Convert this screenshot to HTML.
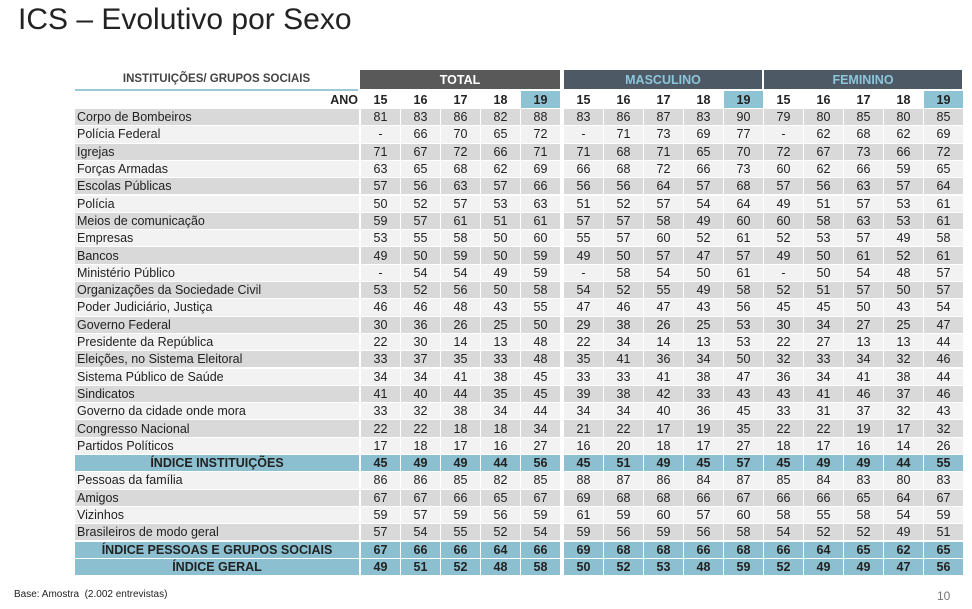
<!DOCTYPE html>
<html><head><meta charset="utf-8">
<style>
body{margin:0;width:972px;height:609px;background:#fff;position:relative;overflow:hidden;font-family:"Liberation Sans",sans-serif;}
.a{position:absolute;box-sizing:border-box;}
.c{display:flex;align-items:center;justify-content:center;font-size:12.5px;color:#222;}
.l{display:flex;align-items:center;font-size:12.5px;color:#222;padding-left:2px;white-space:nowrap;}
</style></head><body>
<div class="a" style="left:18px;top:3px;font-size:30px;color:#222;">ICS – Evolutivo por Sexo</div>
<div class="a" style="left:75px;top:73px;width:283px;text-align:center;font-size:11.5px;font-weight:bold;color:#444;">INSTITUIÇÕES/ GRUPOS SOCIAIS</div>
<div class="a" style="left:75px;top:89px;width:283px;height:2px;background:#9cc8d8;"></div>
<div class="a" style="left:14px;top:589px;font-size:10px;color:#222;">Base: Amostra&nbsp; (2.002 entrevistas)</div>
<div class="a" style="left:937px;top:589px;font-size:12px;color:#777;">10</div>
<div id="t"></div>
<script>
const groups=["TOTAL","MASCULINO","FEMININO"];
const years=["15","16","17","18","19"];
const labels=["Corpo de Bombeiros","Polícia Federal","Igrejas","Forças Armadas","Escolas Públicas","Polícia","Meios de comunicação","Empresas","Bancos","Ministério Público","Organizações da Sociedade Civil","Poder Judiciário, Justiça","Governo Federal","Presidente da República","Eleições, no Sistema Eleitoral","Sistema Público de Saúde","Sindicatos","Governo da cidade onde mora","Congresso Nacional","Partidos Políticos","ÍNDICE INSTITUIÇÕES","Pessoas da família","Amigos","Vizinhos","Brasileiros de modo geral","ÍNDICE PESSOAS E GRUPOS SOCIAIS","ÍNDICE GERAL"];
const indexRows=[20,25,26];
const totalVals=[[81,83,86,82,88],["-",66,70,65,72],[71,67,72,66,71],[63,65,68,62,69],[57,56,63,57,66],[50,52,57,53,63],[59,57,61,51,61],[53,55,58,50,60],[49,50,59,50,59],["-",54,54,49,59],[53,52,56,50,58],[46,46,48,43,55],[30,36,26,25,50],[22,30,14,13,48],[33,37,35,33,48],[34,34,41,38,45],[41,40,44,35,45],[33,32,38,34,44],[22,22,18,18,34],[17,18,17,16,27],[45,49,49,44,56],[86,86,85,82,85],[67,67,66,65,67],[59,57,59,56,59],[57,54,55,52,54],[67,66,66,64,66],[49,51,52,48,58]];
const maleVals=[[83,86,87,83,90],["-",71,73,69,77],[71,68,71,65,70],[66,68,72,66,73],[56,56,64,57,68],[51,52,57,54,64],[57,57,58,49,60],[55,57,60,52,61],[49,50,57,47,57],["-",58,54,50,61],[54,52,55,49,58],[47,46,47,43,56],[29,38,26,25,53],[22,34,14,13,53],[35,41,36,34,50],[33,33,41,38,47],[39,38,42,33,43],[34,34,40,36,45],[21,22,17,19,35],[16,20,18,17,27],[45,51,49,45,57],[88,87,86,84,87],[69,68,68,66,67],[61,59,60,57,60],[59,56,59,56,58],[69,68,68,66,68],[50,52,53,48,59]];
const femaleVals=[[79,80,85,80,85],["-",62,68,62,69],[72,67,73,66,72],[60,62,66,59,65],[57,56,63,57,64],[49,51,57,53,61],[60,58,63,53,61],[52,53,57,49,58],[49,50,61,52,61],["-",50,54,48,57],[52,51,57,50,57],[45,45,50,43,54],[30,34,27,25,47],[22,27,13,13,44],[32,33,34,32,46],[36,34,41,38,44],[43,41,46,37,46],[33,31,37,32,43],[22,22,19,17,32],[18,17,16,14,26],[45,49,49,44,55],[85,84,83,80,83],[66,66,65,64,67],[58,55,58,54,59],[54,52,52,49,51],[66,64,65,62,65],[52,49,49,47,56]];
const series=[totalVals,maleVals,femaleVals];
const t=document.getElementById('t');
const gx=[360,563,763], cw=40, top0=109, rh=17.3;
function div(cls,x,y,w,h,bg,txt,st){const d=document.createElement('div');d.className='a '+cls;d.style.cssText=`left:${x}px;top:${y}px;width:${w}px;height:${h}px;background:${bg};`+(st||'');if(txt!==undefined)d.textContent=txt;t.appendChild(d);return d;}
groups.forEach((g,gi)=>{
  const h=div('c',gx[gi]+(gi?1:0),70,gi?198:200,19,gi?'#4e5966':'#595959',g,`font-weight:bold;color:${gi?'#8cc6da':'#fff'};`);
  
  
  years.forEach((y,yi)=>{
    const c=div('c',gx[gi]+yi*cw+1,91,cw-1,17,yi==4?'#8ec3d4':'#fff',y,'font-weight:bold;');
    
    
  });
});
const ano=div('c',300,91,58,17,'transparent','ANO','justify-content:flex-end;font-weight:bold;');


labels.forEach((lab,ri)=>{
  const y=top0+ri*rh, h=rh-1;
  const isIdx=indexRows.includes(ri);
  const bg=isIdx?'#8cc0d1':(ri%2==0?'#d9d9d9':'#f2f2f2');
  const l=div(isIdx?'c':'l',75,y,284,h,bg,lab,isIdx?'font-weight:bold;':'');
  
  
  series.forEach((s,gi)=>{
    s[ri].forEach((v,yi)=>{
      const c=div('c',gx[gi]+yi*cw+1,y,cw-1,h,bg,String(v),isIdx?'font-weight:bold;':'');
      
      
    });
  });
});
</script>
</body></html>
